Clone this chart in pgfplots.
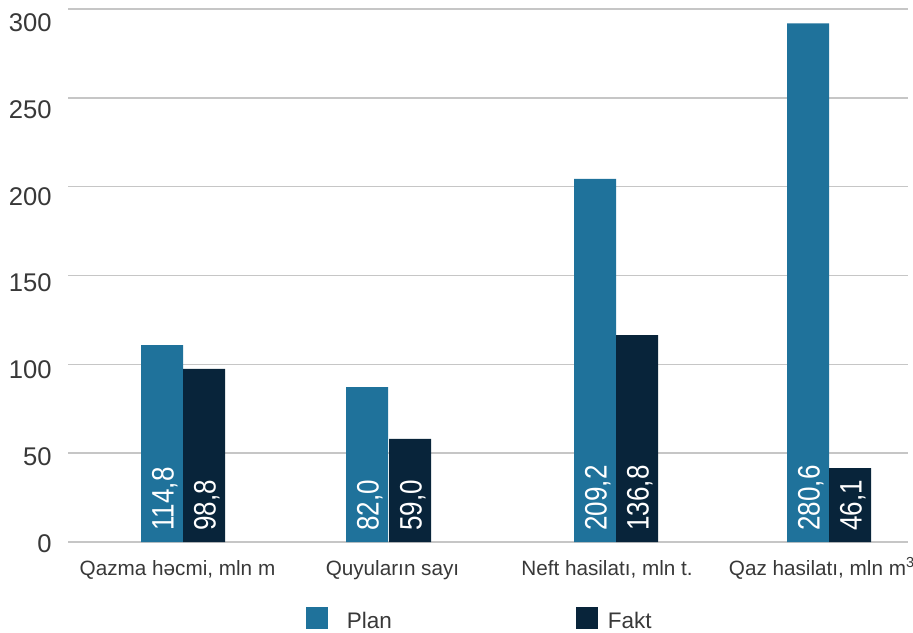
\documentclass[border=0pt]{standalone}
\usepackage{pgfplots}
\usepackage{pgfplotstable}
\pgfplotsset{compat=1.18}
\usepackage{fontspec}
\setmainfont{Liberation Sans}
\newfontfamily\narrowfont[FakeStretch=0.84]{Liberation Sans}
\definecolor{planc}{HTML}{1F729B}
\definecolor{faktc}{HTML}{08243A}
\definecolor{txt}{HTML}{383838}
\definecolor{gridc}{HTML}{C6C6C6}

% x = bar centre (px-like units), y = drawn bar height, lab = printed value
\pgfplotstableread{
x     y      z  lab
162   110.8  0  114,8
367   87.2   0  82,0
595   204.4  0  209,2
808   291.9  0  280,6
}\plan
\pgfplotstableread{
x     y      z  lab
204   97.4   0  98,8
410   58.0   0  59,0
637   116.5  0  136,8
850   41.6   0  46,1
}\fakt

\begin{document}
\begin{tikzpicture}
\path[use as bounding box] (-34pt,-45pt) rectangle (422.5pt,271pt);
\begin{axis}[
  scale only axis, width=420pt, height=266.5pt,
  xmin=68, xmax=908, ymin=0, ymax=300,
  clip=false,
  axis line style={draw=none},
  major tick length=0pt,
  ymajorgrids, grid style={line width=0.8pt, color=gridc},
  ytick={0,50,100,150,200,250,300},
  yticklabels={\raisebox{-5pt}{0},\raisebox{-6.06pt}{50},\raisebox{-7.12pt}{100},\raisebox{-8.18pt}{150},\raisebox{-9.24pt}{200},\raisebox{-10.3pt}{250},\raisebox{-11.36pt}{300}},
  yticklabel style={anchor=base east, inner sep=0pt, xshift=-8pt, font=\fontsize{12.8}{14}\selectfont, text=txt},
  xtick={177.5,392.5,607,822},
  xticklabels={Qazma həcmi{,} mln m, Quyuların sayı, Neft hasilatı{,} mln t., Qaz hasilatı{,} mln m\textsuperscript{3}},
  xticklabel style={anchor=base, inner sep=0pt, yshift=-16.5pt, font=\fontsize{10.35}{12}\selectfont, text=txt},
  legend columns=2,
  legend cell align=left,
  legend style={draw=none, fill=none, at={(axis description cs:0.2833,-0.1454)}, anchor=west,
    inner sep=0pt, outer sep=0pt, column sep=0pt, row sep=0pt,
    font=\fontsize{11.25}{13}\selectfont, text=txt, nodes={inner sep=0pt}},
]
\addplot[ybar, bar width=42, bar shift=0pt, fill=planc, draw=none,
  legend image code/.code={\fill (0pt,-3.5pt) rectangle (11pt,7.5pt);}]
  table[x=x, y=y] {\plan};
\addlegendentry{\makebox[124pt][l]{\hspace*{9.5pt}Plan}}
\addplot[ybar, bar width=42, bar shift=0pt, fill=faktc, draw=none,
  legend image code/.code={\fill (0pt,-3.5pt) rectangle (11pt,7.5pt);}]
  table[x=x, y=y] {\fakt};
\addlegendentry{\hspace*{5pt}Fakt}
\addplot[draw=none, forget plot, nodes near coords, point meta=explicit symbolic,
  nodes near coords style={font=\narrowfont\fontsize{15.5}{16}\selectfont, text=white,
    inner sep=0pt, anchor=base west, xshift=5.8pt, yshift=5.5pt, rotate=90}]
  table[x=x, y=z, meta=lab] {\plan};
\addplot[draw=none, forget plot, nodes near coords, point meta=explicit symbolic,
  nodes near coords style={font=\narrowfont\fontsize{15.5}{16}\selectfont, text=white,
    inner sep=0pt, anchor=base west, xshift=5.8pt, yshift=5.5pt, rotate=90}]
  table[x=x, y=z, meta=lab] {\fakt};
\end{axis}
\end{tikzpicture}
\end{document}
